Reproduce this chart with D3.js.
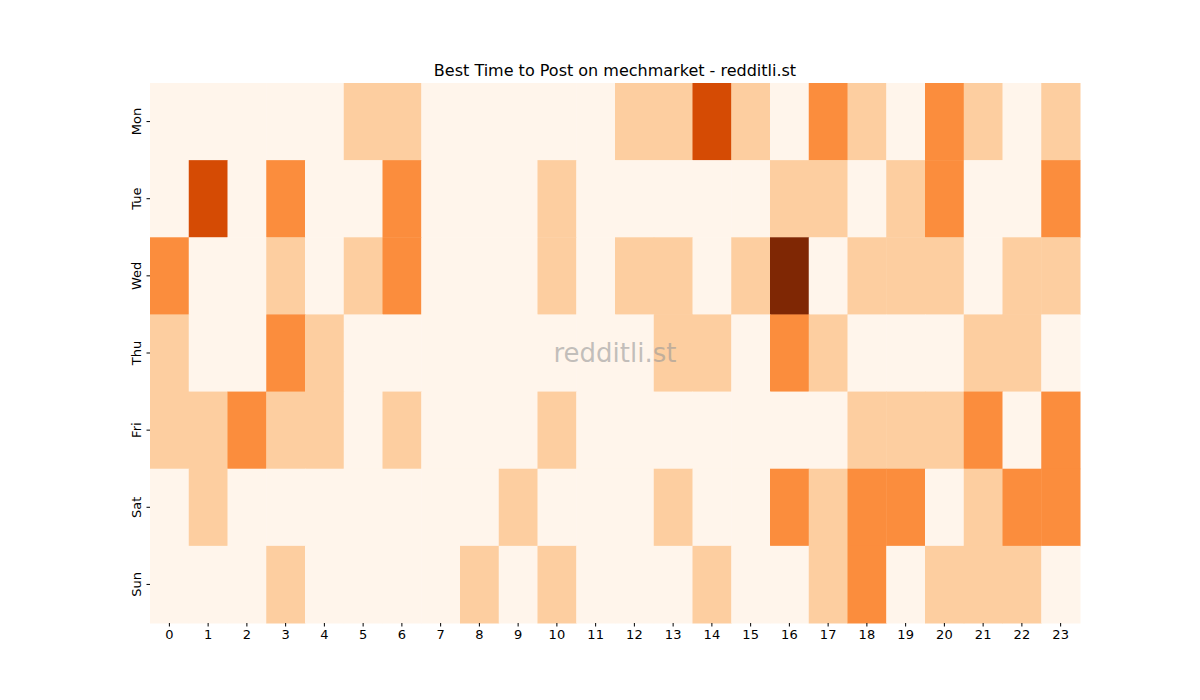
<!DOCTYPE html>
<html>
<head>
<meta charset="utf-8">
<script src="https://cdn.jsdelivr.net/npm/d3@7"></script>
<style>
body { margin: 0; background: #fff; }
text { font-family: "DejaVu Sans", sans-serif; }
</style>
</head>
<body>
<div id="chart"></div>
<script>
const days = ['Mon', 'Tue', 'Wed', 'Thu', 'Fri', 'Sat', 'Sun']
const hours = d3.range(24)
// activity level per day, one value per hour 0..23
const mon = [0,0,0,0,0,1,1,0,0,0,0,0,1,1,3,1,0,2,1,0,2,1,0,1]
const tue = [0,3,0,2,0,0,2,0,0,0,1,0,0,0,0,0,1,1,0,1,2,0,0,2]
const wed = [2,0,0,1,0,1,2,0,0,0,1,0,1,1,0,1,4,0,1,1,1,0,1,1]
const thu = [1,0,0,2,1,0,0,0,0,0,0,0,0,1,1,0,2,1,0,0,0,1,1,0]
const fri = [1,1,2,1,1,0,1,0,0,0,1,0,0,0,0,0,0,0,1,1,1,2,0,2]
const sat = [0,1,0,0,0,0,0,0,0,1,0,0,0,1,0,0,2,1,2,2,0,1,2,2]
const sun = [0,0,0,1,0,0,0,0,1,0,1,0,0,0,1,0,0,1,2,0,1,1,1,0]
const rows = [mon, tue, wed, thu, fri, sat, sun]

const margin = {top: 83, left: 150}
const w = 930, h = 540

const svg = d3.select('#chart').append('svg')
    .attr('width', 1200).attr('height', 700)
const g = svg.append('g').attr('transform', 'translate(' + margin.left + ', ' + margin.top + ')')

const x = d3.scaleBand().domain(hours).range([0, w])
const y = d3.scaleBand().domain(days).range([0, h])
const color = d3.scaleSequential(d3.interpolateOranges).domain([0, 4])

const cells = []
rows.forEach((r, i) => r.forEach((v, j) => cells.push({day: days[i], hour: j, v: v})))

g.selectAll('rect').data(cells).enter().append('rect')
    .attr('x', d => x(d.hour))
    .attr('y', d => y(d.day))
    .attr('width', x.bandwidth() + 0.5)
    .attr('height', y.bandwidth() + 0.5)
    .attr('fill', d => color(d.v))

const xa = g.append('g').attr('transform', 'translate(0, ' + h + ')')
    .call(d3.axisBottom(x).tickSize(3.5))
xa.select('.domain').remove()
xa.selectAll('text').attr('font-size', 13).attr('fill', '#000').attr('font-family', 'DejaVu Sans')

const ya = g.append('g').call(d3.axisLeft(y).tickSize(3.5))
ya.select('.domain').remove()
ya.selectAll('text').attr('font-size', 13).attr('fill', '#000').attr('font-family', 'DejaVu Sans')
    .attr('transform', 'rotate(-90)')
    .attr('text-anchor', 'middle')
    .attr('x', 0).attr('y', -9).attr('dy', 0)

svg.append('text').attr('x', margin.left + w / 2).attr('y', 76)
    .attr('text-anchor', 'middle').attr('font-size', 16).text('Best Time to Post on mechmarket - redditli.st')

svg.append('text').attr('x', margin.left + w / 2).attr('y', 362)
    .attr('text-anchor', 'middle').attr('font-size', 26)
    .attr('fill', '#999').attr('fill-opacity', 0.6).text('redditli.st')
</script>
</body>
</html>
